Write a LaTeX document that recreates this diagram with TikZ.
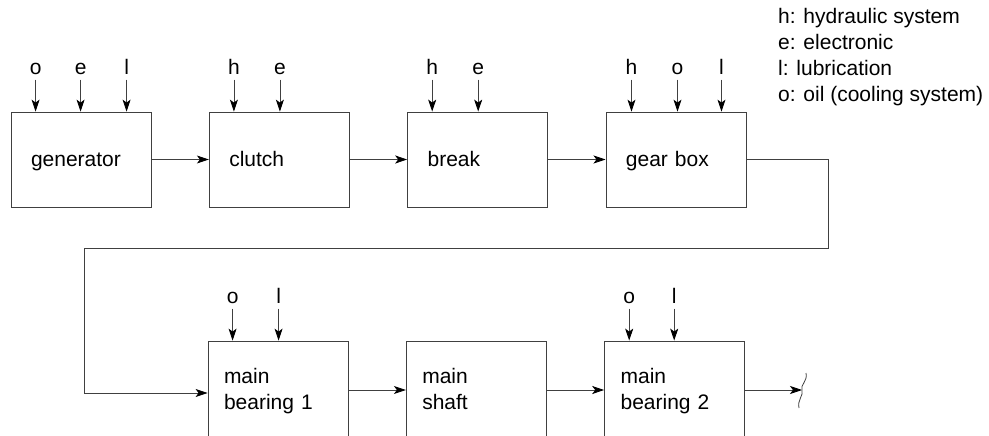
\documentclass[tikz,border=0pt]{standalone}
\usepackage{fontspec}
\setmainfont{Liberation Sans}
\usetikzlibrary{arrows.meta,positioning}

\begin{document}
\begin{tikzpicture}[x=1pt, y=1pt,
  >={Stealth[length=12pt, width=8pt, inset=3pt, color=black]},
  font=\fontsize{21}{26}\selectfont,
  node distance=57.5pt,
  unit/.style={draw=black!75, line width=0.8pt, minimum height=95pt,
    text width=100pt, inner xsep=20pt, align=left,
    text height=17pt, text depth=3pt},
  unitlow/.style={unit, minimum height=98pt, text width=108pt, inner xsep=16pt,
    text height=16pt, text depth=30pt},
  inp/.style={inner sep=0pt, anchor=base},
  line/.style={draw=black!75, line width=0.8pt},
  link/.style={line, ->}]
\useasboundingbox (0,0) rectangle (989,-436);
\clip (0,0) rectangle (989,-436);
% top row
\node[unit] (gen) at (81,-159.5) {generator};
\node[unit, right=of gen] (clutch) {clutch};
\node[unit, right=of clutch] (brk) {break};
\node[unit, right=of brk] (gear) {gear box};
\draw[link] (gen) -- (clutch);
\draw[link] (clutch) -- (brk);
\draw[link] (brk) -- (gear);
% inputs of the top row
\node[inp] (gen-o) at ([xshift=25pt, yshift=37pt]gen.north west) {o};
\node[inp] (gen-e) at ([xshift=70pt, yshift=37pt]gen.north west) {e};
\node[inp] (gen-l) at ([xshift=116pt, yshift=37pt]gen.north west) {l};
\node[inp] (clutch-h) at ([xshift=25pt, yshift=37pt]clutch.north west) {h};
\node[inp] (clutch-e) at ([xshift=71pt, yshift=37pt]clutch.north west) {e};
\node[inp] (brk-h) at ([xshift=25pt, yshift=37pt]brk.north west) {h};
\node[inp] (brk-e) at ([xshift=71pt, yshift=37pt]brk.north west) {e};
\node[inp] (gear-h) at ([xshift=26pt, yshift=37pt]gear.north west) {h};
\node[inp] (gear-o) at ([xshift=72pt, yshift=37pt]gear.north west) {o};
\node[inp] (gear-l) at ([xshift=116pt, yshift=37pt]gear.north west) {l};
\draw[link] ([yshift=-5pt]gen-o.base) -- (gen-o |- gen.north);
\draw[link] ([yshift=-5pt]gen-e.base) -- (gen-e |- gen.north);
\draw[link] ([yshift=-5pt]gen-l.base) -- (gen-l |- gen.north);
\draw[link] ([yshift=-5pt]clutch-h.base) -- (clutch-h |- clutch.north);
\draw[link] ([yshift=-5pt]clutch-e.base) -- (clutch-e |- clutch.north);
\draw[link] ([yshift=-5pt]brk-h.base) -- (brk-h |- brk.north);
\draw[link] ([yshift=-5pt]brk-e.base) -- (brk-e |- brk.north);
\draw[link] ([yshift=-5pt]gear-h.base) -- (gear-h |- gear.north);
\draw[link] ([yshift=-5pt]gear-o.base) -- (gear-o |- gear.north);
\draw[link] ([yshift=-5pt]gear-l.base) -- (gear-l |- gear.north);
% legend
\node[anchor=base west, align=left, inner sep=0pt] (legend) at (778,-102)
  {h: hydraulic system\\ e: electronic\\ l: lubrication\\ o: oil (cooling system)};
% bottom row
\node[unitlow] (mb1) at (278,-390) {main\\ bearing 1};
\node[unitlow, right=of mb1] (shaft) {main\\ shaft};
\node[unitlow, right=of shaft] (mb2) {main\\ bearing 2};
\draw[link] (mb1) -- (shaft);
\draw[link] (shaft) -- (mb2);
% inputs of the bottom row
\node[inp] (mb1-o) at ([xshift=25pt, yshift=37pt]mb1.north west) {o};
\node[inp] (mb1-l) at ([xshift=71pt, yshift=37pt]mb1.north west) {l};
\node[inp] (mb2-o) at ([xshift=25pt, yshift=37pt]mb2.north west) {o};
\node[inp] (mb2-l) at ([xshift=70pt, yshift=37pt]mb2.north west) {l};
\draw[link] ([yshift=-5pt]mb1-o.base) -- (mb1-o |- mb1.north);
\draw[link] ([yshift=-5pt]mb1-l.base) -- (mb1-l |- mb1.north);
\draw[link] ([yshift=-5pt]mb2-o.base) -- (mb2-o |- mb2.north);
\draw[link] ([yshift=-5pt]mb2-l.base) -- (mb2-l |- mb2.north);
% return from the gear box to the second row
\coordinate (turnR) at (828,-248);
\coordinate (turnL) at (84,-248);
\draw[link] (gear.east) -| (turnR) -- (turnL) |- ([yshift=-3pt]mb1.west);
% cut shaft end
\coordinate[right=57pt of mb2] (cut);
\draw[link] (mb2.east) -- (cut);
\draw[line] ([shift={(4,17)}]cut) .. controls ([shift={(6,9)}]cut) and ([shift={(-2,5)}]cut) .. (cut)
  .. controls ([shift={(2,-5)}]cut) and ([shift={(-5,-10)}]cut) .. ([shift={(-3,-18)}]cut);
\end{tikzpicture}
\end{document}
